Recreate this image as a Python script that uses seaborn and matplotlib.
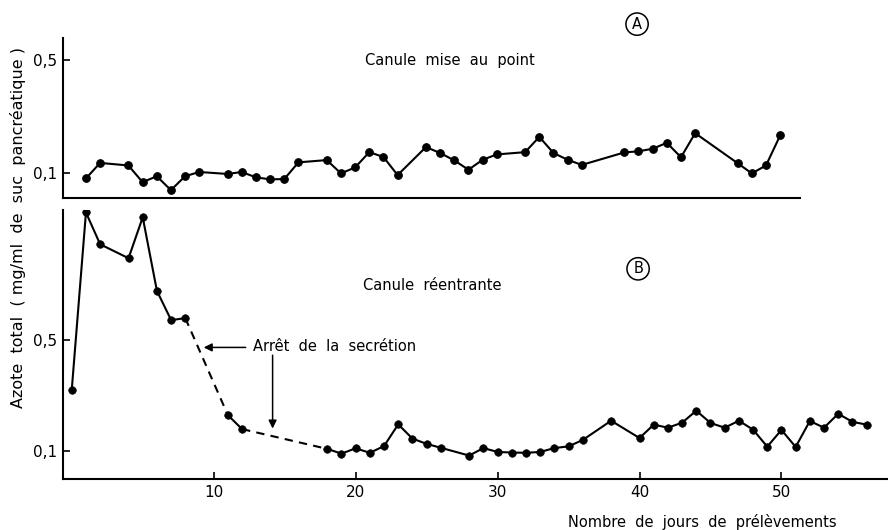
import numpy as np
import pandas as pd
import matplotlib
matplotlib.use("Agg")
import matplotlib.pyplot as plt
import seaborn as sns

# Panel A: canule mise au point
days_a = [1, 2, 4, 5, 6, 7, 8, 9, 11, 12, 13, 14, 15, 16, 18, 19, 20, 21, 22, 23,
          25, 26, 27, 28, 29, 30, 32, 33, 34, 35, 36, 39, 40, 41, 42, 43, 44, 47,
          48, 49, 50]
azote_a = [0.082, 0.137, 0.128, 0.069, 0.090, 0.041, 0.090, 0.105, 0.098, 0.105,
           0.086, 0.079, 0.080, 0.139, 0.147, 0.100, 0.121, 0.175, 0.158, 0.094,
           0.193, 0.172, 0.146, 0.113, 0.148, 0.167, 0.175, 0.229, 0.172, 0.148,
           0.130, 0.174, 0.178, 0.187, 0.208, 0.157, 0.242, 0.136, 0.100, 0.128,
           0.234]

# Panel B: canule reentrante
days_b = [0, 1, 2, 4, 5, 6, 7, 8, 11, 12, 18, 19, 20, 21, 22, 23, 24, 25, 26, 28,
          29, 30, 31, 32, 33, 34, 35, 36, 38, 40, 41, 42, 43, 44, 45, 46, 47, 48,
          49, 50, 51, 52, 53, 54, 55, 56]
azote_b = [0.321, 0.957, 0.843, 0.793, 0.940, 0.676, 0.571, 0.578, 0.230, 0.180,
           0.109, 0.092, 0.111, 0.095, 0.119, 0.197, 0.146, 0.127, 0.113, 0.085,
           0.112, 0.098, 0.096, 0.095, 0.098, 0.112, 0.118, 0.141, 0.210, 0.148,
           0.196, 0.185, 0.203, 0.246, 0.202, 0.185, 0.210, 0.178, 0.117, 0.177,
           0.116, 0.209, 0.185, 0.235, 0.206, 0.196]
# segments of B drawn dashed (secretion stopped), given as day ranges
dashed_spans = [(8, 11), (12, 18)]

y_ticks = [0.1, 0.5]
y_ticklabels = ["0,1", "0,5"]
x_ticks = [10, 20, 30, 40, 50]

sns.set_style("white")
plt.rcParams["font.family"] = ["DejaVu Sans"]
plt.rcParams["text.color"] = "black"
plt.rcParams["xtick.color"] = "black"
plt.rcParams["ytick.color"] = "black"

df_a = pd.DataFrame({"jour": days_a, "azote": azote_a})
df_b = pd.DataFrame({"jour": days_b, "azote": azote_b})

fig = plt.figure(figsize=(8.88, 5.30), dpi=100)
ax_a = fig.add_axes([0.0709, 0.6258, 0.830, 0.3025])
ax_b = fig.add_axes([0.0709, 0.0957, 0.929, 0.5081])

# --- panel A
sns.lineplot(data=df_a, x="jour", y="azote", ax=ax_a, color="black", lw=1.5,
             marker="o", markersize=5.5, markeredgecolor="black")
ax_a.set_xlim(-0.62, 51.4)
ax_a.set_ylim(0.012, 0.578)
ax_a.set_xticks([])
ax_a.text(20.7, 0.497, "Canule  mise  au  point", fontsize=10.5, va="center")
ax_a.text(39.9, 0.627, "A", fontsize=10.5, ha="center", va="center", clip_on=False,
          bbox=dict(boxstyle="circle,pad=0.25", fc="white", ec="black", lw=1.1))

# --- panel B: solid parts, dashed parts, then the points
seg_id = np.zeros(len(df_b), dtype=int)
k = 0
for i in range(1, len(df_b)):
    prev, cur = df_b.jour[i - 1], df_b.jour[i]
    if any(prev == s and cur == e for s, e in dashed_spans):
        k += 1
    seg_id[i] = k
df_b["seg"] = seg_id
for s, part in df_b.groupby("seg"):
    sns.lineplot(data=part, x="jour", y="azote", ax=ax_b, color="black", lw=1.5)
for s, e in dashed_spans:
    part = df_b[(df_b.jour >= s) & (df_b.jour <= e)]
    ax_b.plot(part.jour, part.azote, color="black", lw=1.5, ls=(0, (4, 3)))
sns.scatterplot(data=df_b, x="jour", y="azote", ax=ax_b, color="black", s=30,
                edgecolor="black", zorder=3)
ax_b.set_xlim(-0.62, 57.5)
ax_b.set_ylim(0.0, 0.966)
ax_b.set_xticks(x_ticks)
ax_b.set_xticklabels([str(t) for t in x_ticks], fontsize=11)
ax_b.text(20.55, 0.694, "Canule  réentrante", fontsize=10.5, va="center")
ax_b.text(39.9, 0.755, "B", fontsize=10.5, ha="center", va="center",
          bbox=dict(boxstyle="circle,pad=0.25", fc="white", ec="black", lw=1.1))
ax_b.text(12.75, 0.475, "Arrêt  de  la  secrétion", fontsize=10.5, va="center")
ax_b.annotate("", xy=(9.1, 0.473), xytext=(12.45, 0.473),
              arrowprops=dict(arrowstyle="-|>", color="black", lw=1.1,
                              mutation_scale=12))
ax_b.annotate("", xy=(14.15, 0.172), xytext=(14.15, 0.455),
              arrowprops=dict(arrowstyle="-|>", color="black", lw=1.1,
                              mutation_scale=12))

for ax in (ax_a, ax_b):
    ax.set_xlabel("")
    ax.set_ylabel("")
    ax.set_yticks(y_ticks)
    ax.set_yticklabels(y_ticklabels, fontsize=11)
    for side in ("top", "right"):
        ax.spines[side].set_visible(False)
    for side in ("left", "bottom"):
        ax.spines[side].set_color("black")
        ax.spines[side].set_linewidth(1.5)
    ax.tick_params(direction="in", length=5, width=1.2, colors="black",
                   left=True, bottom=True, pad=4)
    ax.set_facecolor("none")

fig.text(0.020, 0.57, "Azote  total  ( mg/ml  de  suc  pancréatique )",
         rotation=90, ha="center", va="center", fontsize=11.5)
fig.text(0.791, 0.016, "Nombre  de  jours  de  prélèvements", ha="center",
         va="center", fontsize=10.5)

fig.savefig("out.png", dpi=100)
